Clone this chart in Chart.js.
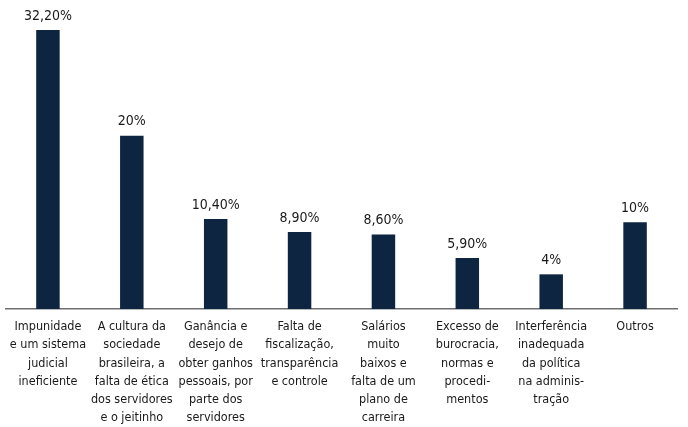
<!DOCTYPE html>
<html><head><meta charset="utf-8">
<script src="https://cdn.jsdelivr.net/npm/chart.js@4/dist/chart.umd.min.js"></script>
<style>html,body{margin:0;padding:0;background:#fff}#wrap{width:688px;height:427px}</style>
</head><body><div id="wrap"><canvas id="c" width="688" height="427"></canvas></div>
<script>
const categories = [
  ["Impunidade","e um sistema","judicial","ineficiente"],
  ["A cultura da","sociedade","brasileira, a","falta de ética","dos servidores","e o jeitinho"],
  ["Ganância e","desejo de","obter ganhos","pessoais, por","parte dos","servidores"],
  ["Falta de","fiscalização,","transparência","e controle"],
  ["Salários","muito","baixos e","falta de um","plano de","carreira"],
  ["Excesso de","burocracia,","normas e","procedi-","mentos"],
  ["Interferência","inadequada","da política","na adminis-","tração"],
  ["Outros"]
];
const values = [32.2, 20, 10.4, 8.9, 8.6, 5.9, 4, 10];
const valueLabels = ["32,20%","20%","10,40%","8,90%","8,60%","5,90%","4%","10%"];

const FONT = "'DejaVu Sans Condensed',sans-serif";

const valuePlugin = {
  id: 'vals',
  afterDatasetsDraw(chart) {
    const ctx = chart.ctx;
    const meta = chart.getDatasetMeta(0);
    ctx.save();
    ctx.font = "14px " + FONT;
    ctx.fillStyle = "#1a1a1a";
    ctx.textAlign = "center";
    ctx.textBaseline = "bottom";
    meta.data.forEach((bar, i) => {
      ctx.fillText(valueLabels[i], bar.x, bar.y - 7);
    });
    ctx.restore();
  }
};

new Chart(document.getElementById('c'), {
  type: 'bar',
  data: {
    labels: categories,
    datasets: [{
      data: values,
      backgroundColor: '#0d2540',
      barPercentage: 0.28,
      categoryPercentage: 1.0
    }]
  },
  options: {
    responsive: false,
    animation: false,
    layout: { padding: { top: 30, left: 6, right: 11, bottom: 0 } },
    plugins: { legend: { display: false }, tooltip: { enabled: false } },
    scales: {
      x: {
        grid: { display: false },
        border: { display: true, color: '#6e6e6e', width: 1.5 },
        ticks: {
          color: '#1a1a1a',
          font: { family: FONT, size: 12.5, lineHeight: 1.45 },
          padding: 1,
          maxRotation: 0,
          autoSkip: false
        },
        afterFit(scale) { scale.height = 118; }
      },
      y: {
        display: false,
        min: 0,
        max: 32.2
      }
    }
  },
  plugins: [valuePlugin]
});
</script>
</body></html>
